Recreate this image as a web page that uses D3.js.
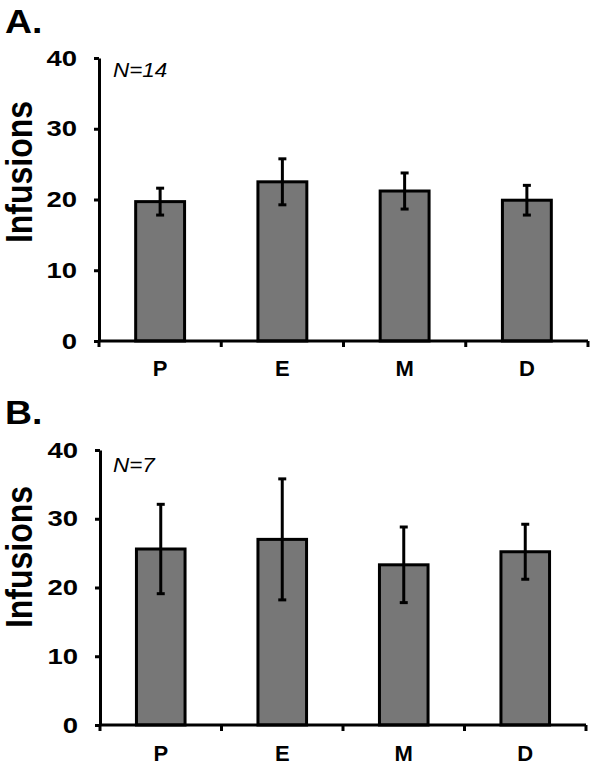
<!DOCTYPE html>
<html>
<head>
<meta charset="utf-8">
<script src="https://cdn.jsdelivr.net/npm/d3@7"></script>
<style>
  html, body { margin: 0; padding: 0; background: #fff; }
  svg { display: block; }
  text { font-family: Arial, "Liberation Sans", sans-serif; }
</style>
</head>
<body>
<svg id="chart" width="596" height="771"></svg>
<script>
// ---- data ----
const categories = ["P", "E", "M", "D"];
const yTicks = [0, 10, 20, 30, 40];
const panelLabels = ["A.", "B."];
const nLabels = ["N=14", "N=7"];
const meansA = [19.7, 22.5, 21.2, 19.9];
const errA   = [1.9, 3.25, 2.55, 2.1];
const meansB = [25.6, 27.0, 23.3, 25.2];
const errB   = [6.5, 8.8, 5.5, 4.0];
const yLabel = "Infusions";

const svg = d3.select("#chart");

// stretch text horizontally (reference glyphs are slightly wide)
function stretch(sel, k) {
  sel.each(function () {
    const L = this.getComputedTextLength();
    d3.select(this).attr("textLength", L * k).attr("lengthAdjust", "spacingAndGlyphs");
  });
}

const panels = [
  { label: panelLabels[0], n: nLabels[0], means: meansA, errs: errA,
    x0: 99, x1: 588, yBottom: 341, yTop: 58, labelY: 33, nY: 77, labelMidY: 172, catY: 376 },
  { label: panelLabels[1], n: nLabels[1], means: meansB, errs: errB,
    x0: 100, x1: 586, yBottom: 725, yTop: 450, labelY: 424, nY: 472, labelMidY: 557, catY: 761 }
];

panels.forEach(p => {
  const g = svg.append("g");
  const x = d3.scaleBand().domain(categories).range([p.x0, p.x1]).paddingInner(0.6).paddingOuter(0.3);
  const xb = d3.scaleBand().domain(categories).range([p.x0, p.x1]).padding(0);
  const y = d3.scaleLinear().domain([0, 40]).range([p.yBottom, p.yTop]);

  // bars
  g.selectAll("rect.bar").data(p.means).enter().append("rect")
    .attr("class", "bar")
    .attr("x", (d, i) => xb(categories[i]) + xb.bandwidth() / 2 - x.bandwidth() / 2)
    .attr("y", d => y(d))
    .attr("width", x.bandwidth())
    .attr("height", d => y(0) - y(d))
    .attr("fill", "#777777")
    .attr("stroke", "#000")
    .attr("stroke-width", 3);

  // error bars
  const cx = i => xb(categories[i]) + xb.bandwidth() / 2;
  const eg = g.selectAll("g.err").data(p.means).enter().append("g").attr("class", "err");
  eg.append("line")
    .attr("x1", (d, i) => cx(i)).attr("x2", (d, i) => cx(i))
    .attr("y1", (d, i) => y(d + p.errs[i])).attr("y2", (d, i) => y(d - p.errs[i]))
    .attr("stroke", "#000").attr("stroke-width", 3);
  eg.append("line")
    .attr("x1", (d, i) => cx(i) - 4).attr("x2", (d, i) => cx(i) + 4)
    .attr("y1", (d, i) => y(d + p.errs[i])).attr("y2", (d, i) => y(d + p.errs[i]))
    .attr("stroke", "#000").attr("stroke-width", 3);
  eg.append("line")
    .attr("x1", (d, i) => cx(i) - 4).attr("x2", (d, i) => cx(i) + 4)
    .attr("y1", (d, i) => y(d - p.errs[i])).attr("y2", (d, i) => y(d - p.errs[i]))
    .attr("stroke", "#000").attr("stroke-width", 3);

  // y axis
  const yAxis = d3.axisLeft(y).tickValues(yTicks).tickSize(5).tickPadding(17).tickSizeOuter(0);
  const ya = g.append("g").attr("transform", `translate(${p.x0},0)`).call(yAxis);
  ya.select(".domain").attr("stroke", "#000").attr("stroke-width", 3);
  ya.selectAll(".tick line").attr("stroke", "#000").attr("stroke-width", 3);
  const tt = ya.selectAll(".tick text").attr("font-size", 22.5).attr("font-weight", "bold").attr("fill", "#000")
    .attr("font-family", "Arial, 'Liberation Sans', sans-serif");
  stretch(tt, 1.22);

  // x axis (ticks at band boundaries)
  const boundaries = categories.map(c => xb(c)).concat([p.x1]);
  const xa = g.append("g");
  xa.append("line").attr("x1", p.x0).attr("x2", p.x1).attr("y1", y(0)).attr("y2", y(0))
    .attr("stroke", "#000").attr("stroke-width", 3);
  xa.selectAll("line.xt").data(boundaries).enter().append("line").attr("class", "xt")
    .attr("x1", d => d).attr("x2", d => d).attr("y1", y(0)).attr("y2", y(0) + 6)
    .attr("stroke", "#000").attr("stroke-width", 3);
  xa.selectAll("text.cat").data(categories).enter().append("text").attr("class", "cat")
    .attr("x", d => xb(d) + xb.bandwidth() / 2).attr("y", p.catY)
    .attr("text-anchor", "middle").attr("font-size", 22).attr("font-weight", "bold")
    .text(d => d);

  // panel label
  const pl = g.append("text").attr("x", 5).attr("y", p.labelY).attr("font-size", 34).attr("font-weight", "bold").text(p.label);
  stretch(pl, 1.1);
  // N label
  const nl = g.append("text").attr("x", 113).attr("y", p.nY).attr("font-size", 19.5).attr("font-style", "italic").text(p.n);
  stretch(nl, 1.15);
  // y label
  g.append("text").attr("transform", `translate(32,${p.labelMidY}) scale(1.15,1) rotate(-90)`)
    .attr("text-anchor", "middle").attr("font-size", 32).attr("font-weight", "bold").text(yLabel);
});
</script>
</body>
</html>
